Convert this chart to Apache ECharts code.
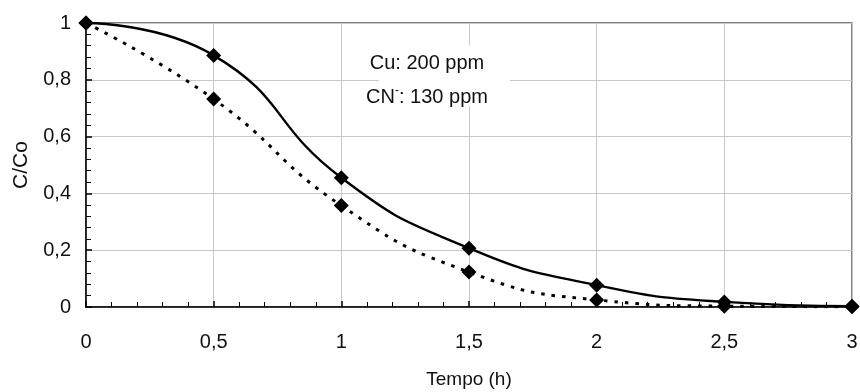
<!DOCTYPE html>
<html>
<head>
<meta charset="utf-8">
<script src="https://cdn.jsdelivr.net/npm/echarts@6/dist/echarts.min.js"></script>
<style>
  html, body { margin: 0; padding: 0; background: #fff; }
  #chart { width: 860px; height: 392px; }
</style>
</head>
<body>
<div id="chart"></div>
<script>
  // tempo (h) e C/Co
  var tempo = [0, 0.5, 1, 1.5, 2, 2.5, 3];
  var serieCheia = [1, 0.886, 0.455, 0.207, 0.077, 0.018, 0.003];
  var seriePontilhada = [1, 0.732, 0.357, 0.123, 0.025, 0.003, 0.001];
  var notaLinhas = ['Cu: 200 ppm', 'CN{sup|-}: 130 ppm'];

  function pares(ys) {
    var out = [];
    for (var i = 0; i < tempo.length; i++) out.push([tempo[i], ys[i]]);
    return out;
  }
  function virgula(v) { return String(v).replace('.', ','); }

  var fonte = '"Liberation Sans", Arial, sans-serif';
  var chart = echarts.init(document.getElementById('chart'));

  chart.setOption({
    animation: false,
    grid: {
      left: 86, right: 8, top: 23, bottom: 85,
      outerBoundsMode: 'none',
      show: true, borderColor: '#555', borderWidth: 1.5
    },
    xAxis: {
      type: 'value', min: 0, max: 3, interval: 0.5,
      name: 'Tempo (h)', nameLocation: 'middle', nameGap: 63,
      nameTextStyle: { fontFamily: fonte, fontSize: 19, color: '#111' },
      axisLine: { lineStyle: { color: '#000', width: 1.5 } },
      axisTick: { inside: true, length: 6, lineStyle: { color: '#000', width: 1.5 } },
      minorTick: { show: true, splitNumber: 5, length: 5, lineStyle: { color: '#000' } },
      axisLabel: { fontFamily: fonte, fontSize: 20, color: '#111', margin: 25, formatter: virgula },
      splitLine: { lineStyle: { color: '#c8c8c8', width: 1 } }
    },
    yAxis: {
      type: 'value', min: 0, max: 1, interval: 0.2,
      name: 'C/Co', nameLocation: 'middle', nameGap: 54,
      nameTextStyle: { fontFamily: fonte, fontSize: 21, color: '#111' },
      axisLine: { show: true, lineStyle: { color: '#000', width: 1.5 } },
      axisTick: { show: true, inside: true, length: 6, lineStyle: { color: '#000', width: 1.5 } },
      minorTick: { show: true, splitNumber: 5, length: 5, lineStyle: { color: '#000' } },
      axisLabel: { fontFamily: fonte, fontSize: 20, color: '#111', margin: 15, formatter: virgula },
      splitLine: { lineStyle: { color: '#c8c8c8', width: 1 } }
    },
    graphic: [{
      type: 'rect',
      shape: { x: 379, y: 45, width: 131, height: 61 },
      style: { fill: '#fff' },
      z: 10
    }, {
      type: 'text',
      x: 427, y: 46,
      z: 11,
      style: {
        text: notaLinhas.join('\n'),
        fontFamily: fonte, fontSize: 20, fill: '#111',
        lineHeight: 34, align: 'center', verticalAlign: 'top',
        rich: {
          sup: { fontFamily: fonte, fontSize: 12, fill: '#111', padding: [0, 0, 12, 0] }
        }
      }
    }],
    series: [{
      type: 'line',
      data: pares(serieCheia),
      smooth: 0.5,
      symbol: 'diamond', symbolSize: 15,
      lineStyle: { color: '#000', width: 2.4 },
      itemStyle: { color: '#000' },
      z: 3
    }, {
      type: 'line',
      data: pares(seriePontilhada),
      smooth: 0.5,
      symbol: 'diamond', symbolSize: 15,
      lineStyle: { color: '#000', width: 3, type: [3.5, 7] },
      itemStyle: { color: '#000' },
      z: 2
    }]
  });
</script>
</body>
</html>
